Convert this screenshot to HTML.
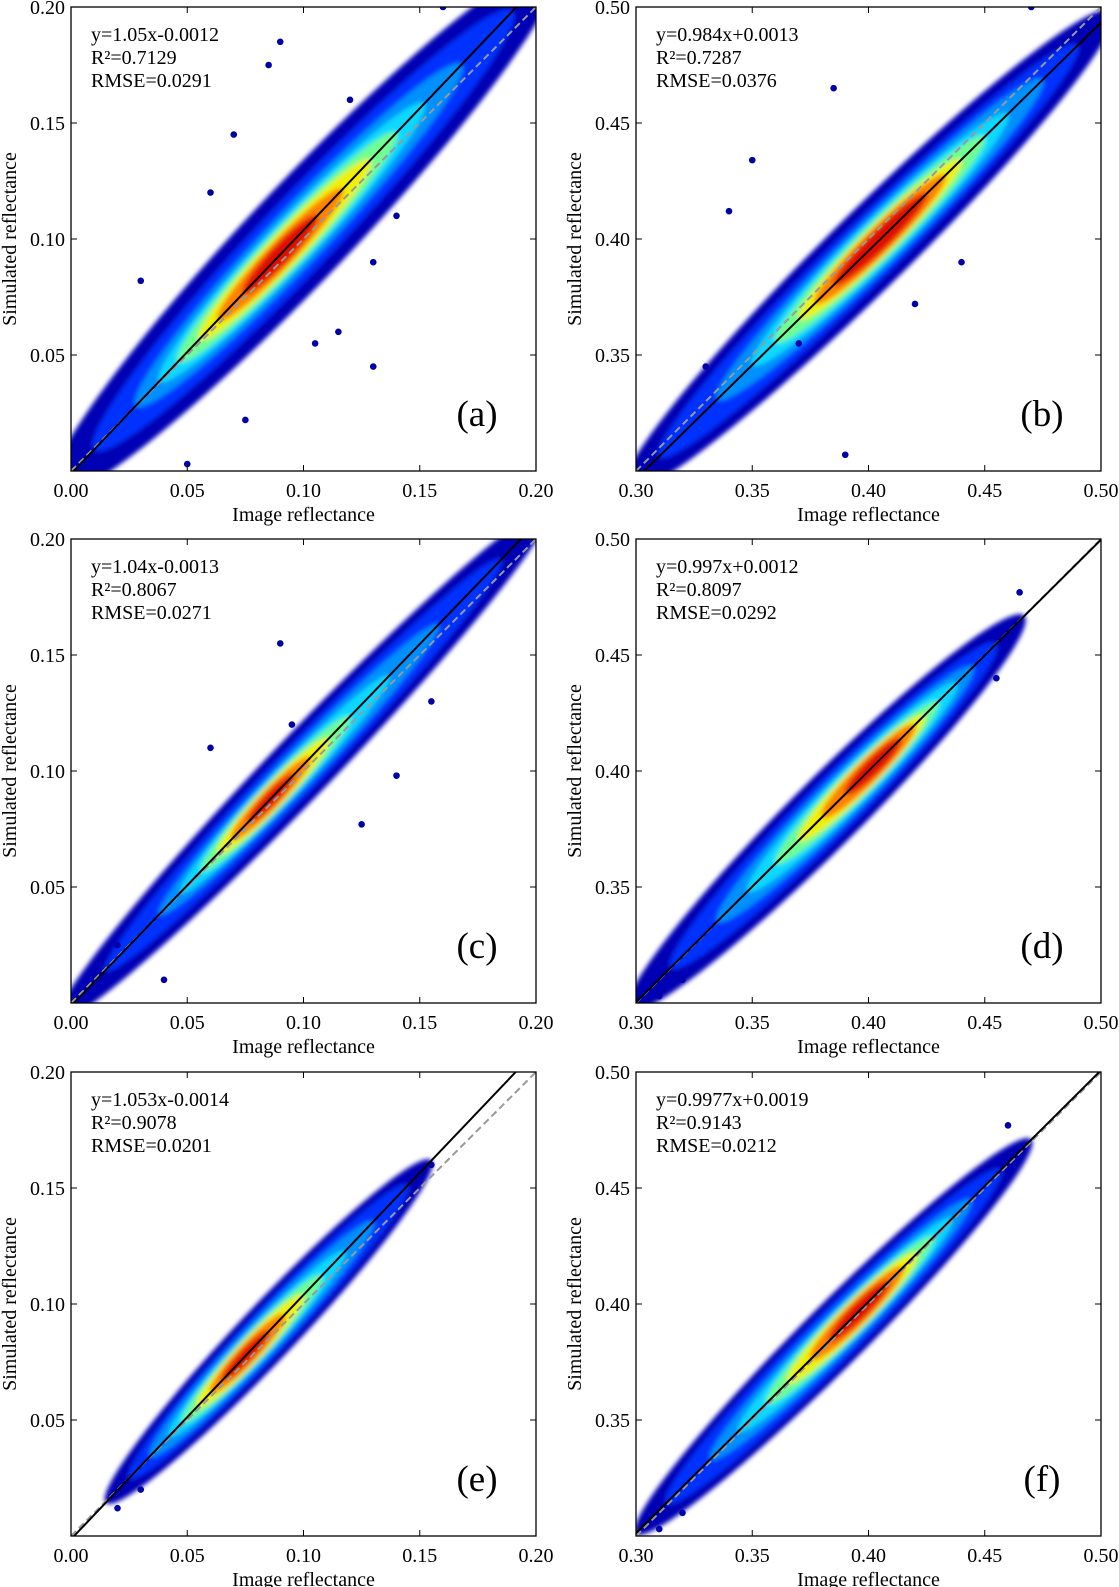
<!DOCTYPE html>
<html><head><meta charset="utf-8">
<style>
html,body{margin:0;padding:0;background:#fff;}
svg{display:block;font-family:"Liberation Serif",serif;}
</style></head>
<body>
<svg id="fig" width="1119" height="1587" viewBox="0 0 1119 1587" xmlns="http://www.w3.org/2000/svg">
<defs>
<filter id="blur" x="-20%" y="-20%" width="140%" height="140%"><feGaussianBlur stdDeviation="2.5"/></filter>
</defs>
</svg>
<script>
// ---- data ----
const panelLabels = ["(a)","(b)","(c)","(d)","(e)","(f)"];
const slopes = [1.05,0.984,1.04,0.997,1.053,0.9977];
const intercepts = [-0.0012,0.0013,-0.0013,0.0012,-0.0014,0.0019];
const eqTexts = ["y=1.05x-0.0012","y=0.984x+0.0013","y=1.04x-0.0013","y=0.997x+0.0012","y=1.053x-0.0014","y=0.9977x+0.0019"];
const r2Texts = ["R²=0.7129","R²=0.7287","R²=0.8067","R²=0.8097","R²=0.9078","R²=0.9143"];
const rmseTexts = ["RMSE=0.0291","RMSE=0.0376","RMSE=0.0271","RMSE=0.0292","RMSE=0.0201","RMSE=0.0212"];
const axisMins = [0,0.3,0,0.3,0,0.3];
const ticksLow = ["0.00","0.05","0.10","0.15","0.20"];
const ticksHigh = ["0.30","0.35","0.40","0.45","0.50"];
const levelColors = ["#0000b4","#0030ff","#0090ff","#10d8ff","#70ff90","#f0f000","#ff8000","#e01000"];
const levelCx = [
 [0.10,0.10,0.098,0.095,0.093,0.092,0.09,0.09],
 [0.40,0.40,0.405,0.405,0.405,0.405,0.405,0.405],
 [0.10,0.10,0.098,0.092,0.088,0.087,0.086,0.086],
 [0.382,0.385,0.39,0.393,0.395,0.397,0.40,0.402],
 [0.085,0.085,0.082,0.08,0.078,0.077,0.076,0.075],
 [0.385,0.385,0.388,0.39,0.392,0.393,0.395,0.396]];
const levelHx = [
 [0.108,0.09,0.07,0.057,0.047,0.037,0.027,0.016],
 [0.105,0.09,0.07,0.055,0.045,0.035,0.028,0.02],
 [0.105,0.085,0.06,0.045,0.032,0.024,0.017,0.01],
 [0.085,0.07,0.055,0.045,0.035,0.027,0.02,0.012],
 [0.07,0.06,0.048,0.038,0.03,0.023,0.016,0.01],
 [0.085,0.072,0.056,0.046,0.036,0.028,0.02,0.013]];
const levelHv = [
 [0.03,0.022,0.017,0.014,0.012,0.01,0.008,0.006],
 [0.024,0.018,0.015,0.013,0.011,0.009,0.008,0.006],
 [0.019,0.014,0.011,0.009,0.008,0.007,0.006,0.004],
 [0.021,0.016,0.013,0.011,0.009,0.008,0.007,0.005],
 [0.017,0.013,0.011,0.009,0.008,0.007,0.006,0.004],
 [0.019,0.015,0.012,0.01,0.009,0.008,0.007,0.005]];
const outlierX = [
 [0.09,0.13,0.075,0.115,0.06,0.13,0.16,0.05,0.085,0.12,0.03,0.105,0.07,0.14],
 [0.385,0.35,0.42,0.39,0.34,0.47,0.33,0.44,0.37,0.31],
 [0.09,0.125,0.14,0.04,0.06,0.155,0.095,0.02],
 [0.465,0.31,0.455,0.32],
 [0.155,0.02,0.03],
 [0.46,0.31,0.32]];
const outlierY = [
 [0.185,0.045,0.022,0.06,0.12,0.09,0.2,0.003,0.175,0.16,0.082,0.055,0.145,0.11],
 [0.465,0.434,0.372,0.307,0.412,0.5,0.345,0.39,0.355,0.3],
 [0.155,0.077,0.098,0.01,0.11,0.13,0.12,0.025],
 [0.477,0.303,0.44,0.31],
 [0.16,0.012,0.02],
 [0.477,0.303,0.31]];

// ---- layout ----
const colLeft = [71,636], rowTop = [7,539,1072], W = 465, H = 464;
const svg = document.getElementById('fig');
const NS = "http://www.w3.org/2000/svg";
function mk(tag, attrs, parent){const e=document.createElementNS(NS,tag);for(const k in attrs)e.setAttribute(k,attrs[k]);(parent||svg).appendChild(e);return e;}

for(let p=0;p<6;p++){
  const L = colLeft[p%2], T = rowTop[Math.floor(p/2)];
  const mn = axisMins[p];
  const sx = v => L + (v-mn)/0.2*W;
  const sy = v => T + H - (v-mn)/0.2*H;
  const g = mk('g',{});
  
  
  const clipId='clip'+p;
  const cp = mk('clipPath',{id:clipId},g);
  mk('rect',{x:L,y:T,width:W,height:H},cp);
  const plot = mk('g',{'clip-path':'url(#'+clipId+')'},g);
  const dens = mk('g',{filter:'url(#blur)'},plot);
  
  
  const ang = -Math.atan(slopes[p])*180/Math.PI;
  for(let k=0;k<levelColors.length;k++){
    const cx = levelCx[p][k], cy = slopes[p]*cx+intercepts[p];
    const px = sx(cx), py = sy(cy);
    const rx = (sx(cx+levelHx[p][k])-sx(cx))*Math.sqrt(1+slopes[p]*slopes[p]);
    const ry = (sy(0+mn)-sy(levelHv[p][k]+mn))/Math.SQRT2;
    const e = mk('ellipse',{cx:px,cy:py,rx:rx,ry:ry,fill:levelColors[k],transform:`rotate(${ang} ${px} ${py})`},dens);
    
    
  }
  for(let i=0;i<outlierX[p].length;i++){
    const c = mk('circle',{cx:sx(outlierX[p][i]),cy:sy(outlierY[p][i]),r:3.3,fill:'#0000a8'},plot);
    
    
  }
  const l1 = mk('line',{x1:sx(mn),y1:sy(mn),x2:sx(mn+0.2),y2:sy(mn+0.2),stroke:'#999','stroke-width':2,'stroke-dasharray':'7,4'},plot);
  
  
  const fl = mk('line',{x1:sx(mn),y1:sy(slopes[p]*mn+intercepts[p]),x2:sx(mn+0.2),y2:sy(slopes[p]*(mn+0.2)+intercepts[p]),stroke:'#000','stroke-width':2},plot);
  
  
  const fr = mk('rect',{x:L,y:T,width:W,height:H,fill:'none',stroke:'#000','stroke-width':1.3},g);
  
  
  const labels = (mn===0)?ticksLow:ticksHigh;
  for(let i=0;i<5;i++){
    const v = mn+i*0.05;
    mk('line',{x1:sx(v),y1:T+H,x2:sx(v),y2:T+H-6,stroke:'#000','stroke-width':1},g);
    mk('line',{x1:sx(v),y1:T,x2:sx(v),y2:T+6,stroke:'#000','stroke-width':1},g);
    mk('line',{x1:L,y1:sy(v),x2:L+6,y2:sy(v),stroke:'#000','stroke-width':1},g);
    mk('line',{x1:L+W,y1:sy(v),x2:L+W-6,y2:sy(v),stroke:'#000','stroke-width':1},g);
    const xt = mk('text',{x:sx(v),y:T+H+26,'text-anchor':'middle','font-size':20},g);
    xt.textContent = labels[i];
    
    
    if(i>0){
      const yt = mk('text',{x:L-6,y:sy(v)+7,'text-anchor':'end','font-size':20},g);
      yt.textContent = labels[i];
      
      
    }
  }
  const xl = mk('text',{x:L+W/2,y:T+H+50,'text-anchor':'middle','font-size':20},g);
  xl.textContent='Image reflectance';
  
  
  const yx = L-55, yy = T+H/2;
  const yl = mk('text',{x:yx,y:yy,'text-anchor':'middle','font-size':20,transform:`rotate(-90 ${yx} ${yy})`},g);
  yl.textContent='Simulated reflectance';
  
  
  const st = [eqTexts[p],r2Texts[p],rmseTexts[p]];
  for(let i=0;i<3;i++){
    const t = mk('text',{x:L+20,y:T+34+i*23,'font-size':20},g);
    t.textContent = st[i];
    
    
  }
  const pl = mk('text',{x:L+W-59,y:T+H-45,'text-anchor':'middle','font-size':37},g);
  pl.textContent = panelLabels[p];
  
  
}
</script>
</body></html>
